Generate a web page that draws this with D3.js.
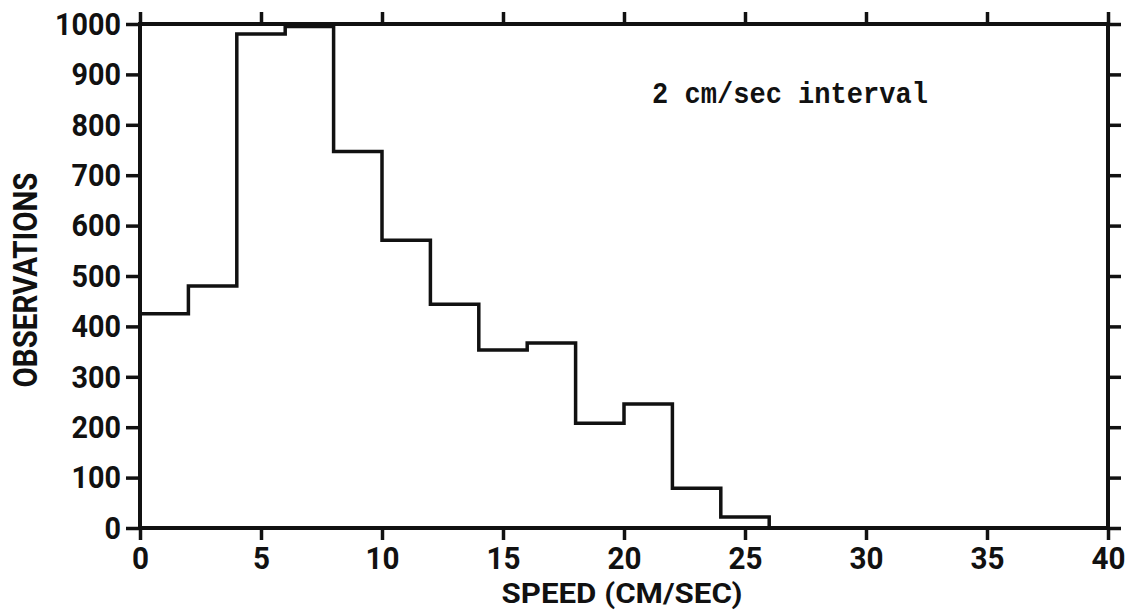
<!DOCTYPE html>
<html>
<head>
<meta charset="utf-8">
<script src="https://cdn.jsdelivr.net/npm/d3@7"></script>
<style>
  html, body { margin: 0; padding: 0; background: #fff; }
  svg { display: block; }
</style>
</head>
<body>
<svg id="chart" width="1134" height="610"></svg>
<script>
// ---- data ----
const binStarts = [0, 2, 4, 6, 8, 10, 12, 14, 16, 18, 20, 22, 24];
const binWidth = 2;
const counts = [425, 480, 980, 995, 747, 571, 444, 353, 367, 208, 246, 79, 22];
const xTickValues = [0, 5, 10, 15, 20, 25, 30, 35, 40];
const yTickValues = [0, 100, 200, 300, 400, 500, 600, 700, 800, 900, 1000];
const xTitle = "SPEED (CM/SEC)";
const yTitle = "OBSERVATIONS";
const note = "2 cm/sec interval";

// ---- layout ----
const svg = d3.select("#chart");
const x = d3.scaleLinear().domain([0, 40]).range([140, 1108]);
const y = d3.scaleLinear().domain([0, 1000]).range([528, 24]);
const ink = "#111";
const labelFont = "Roboto, 'DejaVu Sans', sans-serif";

function styleAxis(g, charW) {
  g.select(".domain").remove();
  g.selectAll(".tick line").attr("stroke", ink).attr("stroke-width", 3.5);
  g.selectAll(".tick text")
    .attr("fill", ink)
    .attr("font-family", labelFont)
    .attr("font-weight", "bold")
    .style("font-size", "32px")
    .each(function () {
      const t = d3.select(this);
      const s = t.text();
      if (s.length) t.attr("textLength", s.length * charW).attr("lengthAdjust", "spacingAndGlyphs");
    });
}

const fmt = d3.format("d");

// bottom axis
svg.append("g")
  .attr("transform", `translate(0,${y(0)})`)
  .call(d3.axisBottom(x).tickValues(xTickValues).tickFormat(fmt).tickSize(12).tickPadding(6).tickSizeOuter(0))
  .call(g => styleAxis(g, 17));

// left axis
svg.append("g")
  .attr("transform", `translate(${x(0)},0)`)
  .call(d3.axisLeft(y).tickValues(yTickValues).tickFormat(fmt).tickSize(14).tickPadding(5).tickSizeOuter(0))
  .call(g => styleAxis(g, 16.5));

// top axis (ticks only)
svg.append("g")
  .attr("transform", `translate(0,${y(1000)})`)
  .call(d3.axisTop(x).tickValues(xTickValues).tickSize(12).tickFormat("").tickSizeOuter(0))
  .call(g => styleAxis(g, 17));

// right axis (ticks only)
svg.append("g")
  .attr("transform", `translate(${x(40)},0)`)
  .call(d3.axisRight(y).tickValues(yTickValues).tickSize(13).tickFormat("").tickSizeOuter(0))
  .call(g => styleAxis(g, 17));

// frame
svg.append("rect")
  .attr("x", x(0)).attr("y", y(1000))
  .attr("width", x(40) - x(0)).attr("height", y(0) - y(1000))
  .attr("fill", "none").attr("stroke", ink).attr("stroke-width", 4);

// step histogram
const pts = binStarts.map((b, i) => [b, counts[i]]);
const last = binStarts[binStarts.length - 1] + binWidth;
pts.push([last, counts[counts.length - 1]]);
pts.push([last, 0]);
const line = d3.line().x(d => x(d[0])).y(d => y(d[1])).curve(d3.curveStepAfter);
svg.append("path")
  .datum(pts)
  .attr("d", line)
  .attr("fill", "none")
  .attr("stroke", ink)
  .attr("stroke-width", 3.5)
  .attr("stroke-linejoin", "miter");

// axis titles
svg.append("text")
  .attr("x", 622).attr("y", 603)
  .attr("text-anchor", "middle")
  .attr("font-family", labelFont).attr("font-weight", "bold")
  .style("font-size", "27px")
  .attr("textLength", 241).attr("lengthAdjust", "spacingAndGlyphs")
  .attr("fill", ink)
  .text(xTitle);

svg.append("text")
  .attr("transform", "translate(37,280) rotate(-90)")
  .attr("text-anchor", "middle")
  .attr("font-family", labelFont).attr("font-weight", "bold")
  .style("font-size", "33px")
  .attr("textLength", 215).attr("lengthAdjust", "spacingAndGlyphs")
  .attr("fill", ink)
  .text(yTitle);

// annotation
svg.append("text")
  .attr("x", 652).attr("y", 103)
  .attr("font-family", "'Liberation Mono', 'DejaVu Sans Mono', monospace")
  .attr("font-weight", "bold")
  .style("font-size", "30px")
  .attr("textLength", 276).attr("lengthAdjust", "spacingAndGlyphs")
  .attr("fill", ink)
  .text(note);
</script>
</body>
</html>
